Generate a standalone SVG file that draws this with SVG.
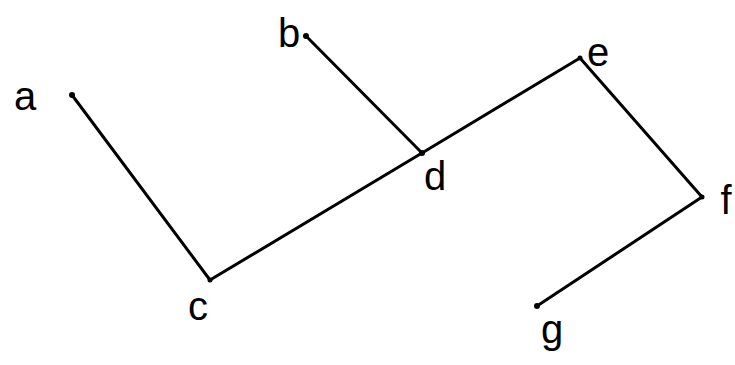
<svg xmlns="http://www.w3.org/2000/svg" width="735" height="365" viewBox="0 0 735 365">
<style>
.edge{stroke:#000;stroke-width:3;fill:none;stroke-linecap:round;stroke-linejoin:round}
.lbl{font-family:"Liberation Sans",Arial,sans-serif;font-size:40px;fill:#000;text-anchor:middle}
.pt{fill:#000}
</style>
<rect width="735" height="365" fill="#fff"/>
<g id="connectors">
<line class="edge" x1="72" y1="95" x2="210" y2="280"/>
<line class="edge" x1="210" y1="280" x2="422" y2="153"/>
<line class="edge" x1="306" y1="36" x2="422" y2="153"/>
<line class="edge" x1="422" y1="153" x2="580" y2="58"/>
<line class="edge" x1="580" y1="58" x2="702" y2="197"/>
<line class="edge" x1="702" y1="197" x2="537" y2="306"/>
</g>
<g id="node-a"><circle class="pt" cx="72" cy="95" r="3"/><text class="lbl" x="25" y="110">a</text></g>
<g id="node-b"><circle class="pt" cx="306" cy="36" r="3"/><text class="lbl" x="289" y="47">b</text></g>
<g id="node-c"><circle class="pt" cx="210" cy="280" r="2.5"/><text class="lbl" x="198" y="320">c</text></g>
<g id="node-d"><circle class="pt" cx="422" cy="153" r="3"/><text class="lbl" x="435" y="190">d</text></g>
<g id="node-e"><circle class="pt" cx="580" cy="58" r="2.5"/><text class="lbl" x="598" y="66">e</text></g>
<g id="node-f"><circle class="pt" cx="702" cy="197" r="2.5"/><text class="lbl" x="726" y="214">f</text></g>
<g id="node-g"><circle class="pt" cx="537" cy="306" r="3"/><text class="lbl" x="552" y="343">g</text></g>
</svg>
